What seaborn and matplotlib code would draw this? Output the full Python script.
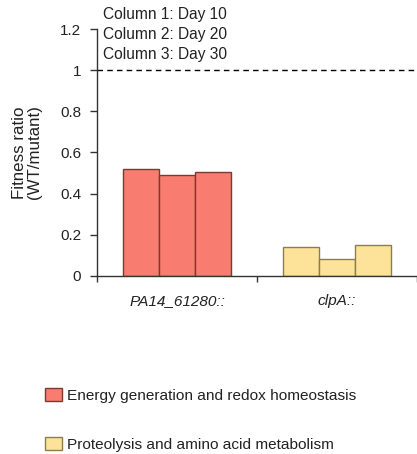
import matplotlib
matplotlib.use("Agg")
import matplotlib.pyplot as plt
import seaborn as sns
import pandas as pd
from matplotlib.patches import Rectangle

categories = ["PA14_61280::", "clpA::"]
days = ["Day 10", "Day 20", "Day 30"]
values = {
    "PA14_61280::": [0.522, 0.490, 0.504],
    "clpA::": [0.141, 0.080, 0.148],
}
groups = ["Energy generation and redox homeostasis", "Proteolysis and amino acid metabolism"]
column_notes = ["Column 1: Day 10", "Column 2: Day 20", "Column 3: Day 30"]
cat_colors = {"PA14_61280::": "#F87D70", "clpA::": "#FCE399"}
cat_edges = {"PA14_61280::": "#7A3A32", "clpA::": "#8C7D4E"}
yticks = [0, 0.2, 0.4, 0.6, 0.8, 1, 1.2]
ytick_labels = ["0", "0.2", "0.4", "0.6", "0.8", "1", "1.2"]

rows = []
for c in categories:
    for d, v in zip(days, values[c]):
        rows.append({"cat": c, "day": d, "val": v})
df = pd.DataFrame(rows)

sns.set_style("white")
plt.rcParams["font.family"] = ["Liberation Sans", "DejaVu Sans"]

W, H = 417, 454
fig = plt.figure(figsize=(W / 100, H / 100), dpi=100)
ax_left = 97 / W
ax_bottom = 1 - 275.7 / H
ax_top = 1 - 29.3 / H
ax = fig.add_axes([ax_left, ax_bottom, 1 - ax_left, ax_top - ax_bottom])

sns.barplot(data=df, x="cat", y="val", hue="day", order=categories, hue_order=days,
            palette=["#cccccc"] * 3, width=0.67, ax=ax, legend=False, linewidth=1.0,
            saturation=1)
for p in ax.patches:
    cx = p.get_x() + p.get_width() / 2
    c = categories[0] if cx < 0.5 else categories[1]
    p.set_facecolor(cat_colors[c])
    p.set_edgecolor(cat_edges[c])
    p.set_linewidth(1.0)

ax.set_xlim(-0.5, -0.5 + (W - 97) / 163)
ax.set_ylim(0, 1.2)
ax.axhline(1, color="black", linestyle=(0, (4, 3)), linewidth=1.0)

for s in ["top", "right"]:
    ax.spines[s].set_visible(False)
for s in ["left", "bottom"]:
    ax.spines[s].set_color("#333333")
    ax.spines[s].set_linewidth(1.0)

ax.set_yticks(yticks)
ax.set_yticklabels(ytick_labels, fontsize=11, color="#222222")
ax.tick_params(axis="y", direction="out", length=5, width=1, color="#333333", left=True, pad=6.5)
ax.set_xticks([0, 1])
ax.set_xticklabels(categories, fontsize=11.1, style="italic", color="#222222")
ax.tick_params(axis="x", length=0, pad=13)
ax.set_xticks([-0.5, 0.5, 1.5], minor=True)
ax.tick_params(axis="x", which="minor", direction="out", length=4, width=1, color="#333333", bottom=True)
ax.set_xlabel("")
ax.set_ylabel("Fitness ratio\n(WT/mutant)", fontsize=12.2, color="#222222", linespacing=1.0)
ax.yaxis.set_label_coords((42 - 97) / (W - 97), 0.5)
ax.yaxis.label.set_va("bottom")

for i, t in enumerate(column_notes):
    fig.text(103 / W, 1 - (18.5 + 20 * i) / H, t, fontsize=11.2, va="baseline", ha="left",
             color="#222222")

legend_rows = [(388, 396), (437, 445)]
for (ptop, tcen), c, label in zip(legend_rows, categories, groups):
    fig.add_artist(Rectangle((45 / W, 1 - (ptop + 13) / H), 17 / W, 13 / H,
                             transform=fig.transFigure, facecolor=cat_colors[c],
                             edgecolor=cat_edges[c], linewidth=1.0))
    fig.text(67 / W, 1 - tcen / H, label, fontsize=11.1, va="center", ha="left", color="#222222")

fig.savefig("out.png", dpi=100)
